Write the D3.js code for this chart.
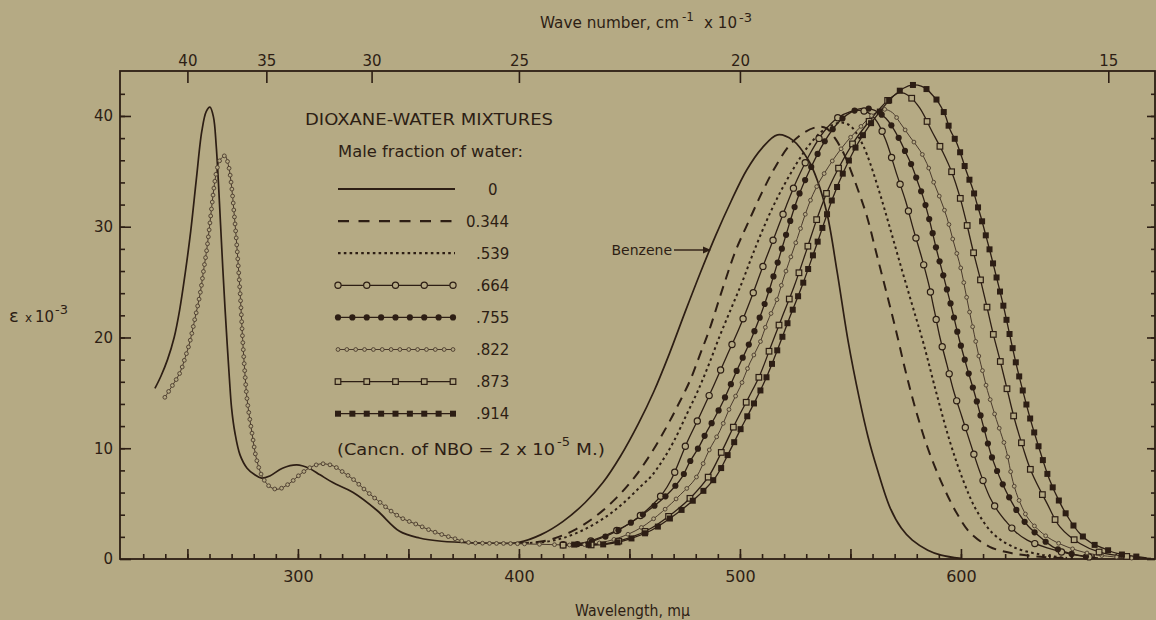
<!DOCTYPE html>
<html>
<head>
<meta charset="utf-8">
<script src="https://cdn.jsdelivr.net/npm/d3@7"></script>
<style>
body { margin: 0; background: #b5aa84; }
svg { display: block; }
text { font-family: "DejaVu Sans", sans-serif; fill: #2d1e14; }
</style>
</head>
<body>
<div id="chart"></div>
<script>
// values: [wavelength mu, epsilon x 10^-3]
var solid0 = [[235.3,15.4],[238,16.5],[241,18.0],[244,20.0],[246.5,22.5],[249,25.8],[251.5,29.6],[254,34.2],[256.5,38.6],[258.5,40.4],[260.2,40.8],[261.8,39.9],[263,37.4],[264,34.1],[265,30.2],[266,26.3],[267,22.7],[268,19.4],[269,16.3],[270,13.6],[271.5,11.4],[273.8,9.4],[277,8.2],[280.5,7.6],[283.6,7.3],[287.3,7.5],[293,8.2],[299.5,8.5],[305,8.2],[310,7.6],[315.8,6.9],[325,6.0],[335.7,4.4],[346,2.5],[355,1.9],[365,1.6],[380,1.45],[393,1.42]];

var benzene = [[392,1.42],[400,1.5],[410,2.2],[420,3.4],[430,5.1],[438,6.9],[446,9.3],[454,12.2],[461,15.1],[468,18.5],[475,22.2],[482,25.8],[489,29.2],[496,32.3],[503,35.1],[510,37.1],[517,38.3],[524,37.8],[531,36.0],[535,34.2],[539.5,31.1],[544,25.9],[549,19.6],[554,14.5],[558,11.0],[562,8.2],[568,4.6],[573,2.8],[578,1.7],[585,0.8],[591,0.35],[600,0.05]];

var w344 = [[400,1.45],[407,1.5],[415,1.8],[425,2.6],[435,3.9],[444,5.5],[452,7.3],[460,9.6],[467,12.0],[472,13.9],[477.4,16.1],[482,18.5],[486,20.6],[492.3,24.5],[498,27.8],[504,30.5],[510,33.1],[516,35.4],[522.6,37.4],[529,38.5],[535,39.0],[539,38.9],[543,38.0],[547,36.6],[550.7,34.8],[554,33.0],[557.5,30.9],[562,27.4],[566.5,23.9],[571,20.3],[575,16.9],[579.5,13.5],[585,10.0],[591.9,6.6],[598.2,4.1],[604,2.4],[613,1.1],[623.5,0.5],[636,0.2],[650,0.05]];

var w539 = [[405,1.45],[412,1.55],[420,1.9],[430,2.7],[440,3.9],[447,5.0],[454.8,6.5],[460,7.5],[465,8.9],[470,10.6],[476,13.1],[481,15.2],[486,17.6],[491,20.2],[496,22.6],[501,25.0],[505,27.1],[509,29.1],[514,31.4],[519,33.4],[525,35.5],[531,37.3],[537,38.6],[542,39.2],[546,39.4],[550,39.1],[554,38.0],[557.5,36.5],[563,33.2],[568,29.8],[573,26.3],[578,22.9],[583,19.5],[589,14.9],[595,10.6],[601,7.1],[607,4.4],[614.5,2.3],[623.5,1.1],[636,0.4],[648,0.1]];

var w664 = [[420,1.3],[430,1.5],[440,2.2],[450,3.2],[460,4.8],[465,5.9],[469,7.2],[476,10.5],[482,13.0],[488,15.6],[494,18.3],[500,21.0],[505,23.5],[510,26.2],[516,29.3],[521,31.9],[526,34.3],[532,36.7],[538,38.6],[544,39.8],[550,40.4],[554,40.5],[558,40.3],[562,39.5],[566,37.8],[571,34.7],[575,32.3],[578.3,29.9],[582.4,27.1],[585.3,24.9],[588,22.4],[590.5,20.0],[593.7,17.5],[596.8,15.1],[600.5,12.8],[604.5,10.3],[608.5,7.9],[613,5.6],[616.5,4.4],[620.8,3.3],[625,2.4],[630,1.7],[639,1.0],[650.7,0.4],[662,0.1]];

var w755 = [[420,1.25],[430,1.45],[440,2.1],[450,3.2],[460,4.6],[467,5.8],[473.8,7.4],[477.4,8.8],[481.4,10.1],[485,11.5],[488.7,12.8],[492.8,14.4],[499,17.2],[505.4,20.0],[511.3,23.1],[515,25.4],[520,28.7],[526,32.5],[532,35.3],[538,37.6],[544,39.3],[550,40.3],[556,40.7],[561,40.5],[566,39.8],[569,39.0],[572.4,37.8],[575,36.7],[578,35.4],[580.5,34.0],[583,32.6],[586,30.4],[589,27.9],[592.8,25.0],[596,22.5],[599,20.0],[602.7,17.3],[606.8,14.5],[610.4,11.8],[614,9.2],[619,6.7],[622,5.5],[625.8,4.2],[630.3,3.0],[635.7,2.0],[641.6,1.1],[649.3,0.5],[660,0.12]];

var w822 = [[239.8,14.6],[243,15.6],[246.6,16.8],[249,18.2],[251.1,19.6],[253.5,21.8],[255.7,23.9],[257.5,26.3],[258.8,28.0],[260,30.0],[261,31.8],[262.2,33.8],[263.5,35.3],[265,36.1],[267,36.4],[268.5,35.6],[270,33.6],[271,31.5],[272,29.2],[273,26.5],[274,23.5],[275,19.8],[276,16.8],[277,14.4],[279.2,11.4],[281.4,8.9],[284.2,7.3],[287.5,6.5],[291,6.3],[296,6.8],[302,7.8],[307,8.4],[311,8.6],[316,8.4],[320,7.9],[325,7.2],[330,6.3],[336,5.3],[346,3.8],[354,3.1],[361,2.5],[370,1.9],[377,1.5],[385,1.42],[395,1.4],[405,1.35],[415,1.3],[425,1.27],[435,1.4],[445,1.9],[455,2.8],[465,4.3],[473,5.8],[480,7.3],[486,9.8],[491,11.6],[495.5,13.7],[500,15.5],[504.5,17.7],[509,19.5],[512.2,21.3],[516.7,23.4],[519.5,25.2],[525,28.4],[533,32.9],[540,35.4],[548,37.6],[554,38.9],[560,40.1],[565,40.6],[569,40.3],[572.4,39.4],[577,38.1],[581.4,36.9],[584.6,35.7],[587.3,34.2],[590.5,32.6],[593.7,30.8],[596.4,28.8],[600,26.2],[602,24.2],[604,22.2],[606,20.3],[608,18.4],[610,16.8],[612,15.2],[614,13.9],[616,12.6],[618,11.4],[620.5,9.8],[623.5,7.0],[626.7,5.1],[631,3.5],[639,2.0],[648,1.1],[658,0.5],[669,0.2],[680,0.05]];

var w873 = [[420,1.25],[430,1.25],[440,1.4],[450,1.9],[460,2.8],[470,4.2],[478,5.6],[486,7.5],[492,9.8],[498,12.3],[504,14.6],[509,16.6],[514,19.2],[519,21.8],[524.5,24.6],[530,27.8],[535,30.8],[540,33.4],[546,35.8],[552,37.8],[558,39.4],[563,40.6],[568,41.6],[572.5,42.1],[576.5,41.8],[581.4,40.7],[586.9,38.6],[591.9,36.7],[595.9,34.9],[599.5,32.7],[602.7,30.2],[605.4,27.9],[608.6,25.4],[611.6,22.9],[614.5,20.4],[617.6,18.0],[620.8,15.4],[624,12.8],[628,10.1],[632,7.8],[639,5.0],[644.8,2.9],[653.8,1.4],[663,0.6],[676.5,0.2],[686,0.05]];

var w914 = [[425,1.3],[440,1.35],[450,1.8],[460,2.6],[470,3.9],[480,5.5],[489,7.4],[495,9.6],[501,12.0],[507,14.3],[512,16.4],[517,18.9],[522.5,21.8],[528,24.6],[533,27.4],[538,30.3],[542,32.6],[547,35.0],[553,37.4],[558.8,39.2],[563.3,40.4],[569,41.7],[574,42.5],[578.3,42.8],[582,42.7],[584.6,42.4],[587.5,41.8],[589.6,41.3],[592.8,40.1],[595,38.8],[598,37.6],[600.5,36.2],[602.8,34.8],[605.2,33.5],[607.2,32.1],[609,30.9],[611,29.4],[613,27.9],[615,26.3],[617,24.7],[619.5,22.6],[622,20.3],[625,17.6],[628.5,14.8],[632,12.2],[635.7,9.8],[640,7.2],[645,5.0],[649.3,3.5],[653.8,2.3],[659.3,1.4],[664,1.0],[670.6,0.5],[676.5,0.3],[684,0.1]];

var fractions = ["0", "0.344", ".539", ".664", ".755", ".822", ".873", ".914"];
var wavelengthLabels = [300, 400, 500, 600];
var epsilonLabels = [0, 10, 20, 30, 40];
var waveNumbers = [40, 35, 30, 25, 20, 15];

var ink = "#2d1e14", paper = "#b5aa84";
var width = 1156, height = 620;

// one style per mole fraction, in legend order
var styles = {
    "0":     {dash: null,    sw: 1.7},
    "0.344": {dash: "10,7",  sw: 2},
    ".539":  {dash: "2.6,3.2", sw: 2},
    ".664":  {marker: "circle",  step: 28,   n: 5, sw: 1.3},
    ".755":  {marker: "dot",     step: 14.5, n: 9, sw: 1.3},
    ".822":  {marker: "small",   step: 15,  n: 14, sw: 1, color: "#4a3a2c"},
    ".873":  {marker: "square",  step: 28,   n: 5, sw: 1.3},
    ".914":  {marker: "fsquare", step: 14.5, n: 9, sw: 1.3}
};

var curves = [
    {key: "0", data: solid0},
    {key: "0", data: benzene},
    {key: "0.344", data: w344},
    {key: ".539", data: w539},
    {key: ".664", data: w664},
    {key: ".755", data: w755},
    {key: ".822", data: w822},
    {key: ".873", data: w873},
    {key: ".914", data: w914}
];

var svg = d3.select("#chart").append("svg")
    .attr("width", width)
    .attr("height", height);

svg.append("rect").attr("width", width).attr("height", height).attr("fill", paper);

var x = d3.scaleLinear().domain([219.5, 687.8]).range([120, 1155]);
var y = d3.scaleLinear().domain([0, 44.06]).range([559, 71]);

var line = d3.line()
    .x(function(d) { return x(d[0]); })
    .y(function(d) { return y(d[1]); })
    .curve(d3.curveCatmullRom.alpha(0.5));

function styleAxis(g, size) {
    g.attr("font-family", null).attr("font-size", null).attr("color", ink);
    g.selectAll("line").attr("stroke-width", 1.6);
    g.selectAll("text").style("font-size", size + "px");
    g.select(".domain").remove();
}

// bottom axis: minor every 10, major every 50
svg.append("g")
    .attr("transform", "translate(0,559)")
    .call(d3.axisBottom(x).tickValues(d3.range(230, 690, 10)).tickSize(-5).tickFormat(""))
    .call(styleAxis, 16);
svg.append("g")
    .attr("transform", "translate(0,559)")
    .call(d3.axisBottom(x).tickValues(d3.range(250, 690, 50)).tickSize(-10).tickPadding(12)
        .tickFormat(function(d) { return wavelengthLabels.indexOf(d) >= 0 ? d : ""; }))
    .call(styleAxis, 16);

// left and right axes
svg.append("g")
    .attr("transform", "translate(120,0)")
    .call(d3.axisLeft(y).tickValues(d3.range(2, 44, 2)).tickSize(-5).tickFormat(""))
    .call(styleAxis, 15);
svg.append("g")
    .attr("transform", "translate(120,0)")
    .call(d3.axisLeft(y).tickValues(epsilonLabels).tickSize(-11).tickPadding(7))
    .call(styleAxis, 15);
svg.append("g")
    .attr("transform", "translate(1155,0)")
    .call(d3.axisRight(y).tickValues(d3.range(2, 44, 2)).tickSize(-4).tickFormat(""))
    .call(styleAxis, 15);
svg.append("g")
    .attr("transform", "translate(1155,0)")
    .call(d3.axisRight(y).tickValues(epsilonLabels).tickSize(-8).tickFormat(""))
    .call(styleAxis, 15);

// top axis in wave numbers (cm-1 x 10^-3)
svg.append("g")
    .attr("transform", "translate(0,71)")
    .call(d3.axisTop(x).tickValues(waveNumbers.map(function(k) { return 1e4 / k; }))
        .tickSize(-12).tickPadding(5)
        .tickFormat(function(v) { return Math.round(1e4 / v); }))
    .call(styleAxis, 15);

// frame
svg.append("rect")
    .attr("x", 120).attr("y", 71)
    .attr("width", 1035).attr("height", 488)
    .attr("fill", "none").attr("stroke", ink).attr("stroke-width", 1.8);

function drawMarker(g, type, cx, cy) {
    if (type == "circle") {
        g.append("circle").attr("cx", cx).attr("cy", cy).attr("r", 3.1)
            .attr("fill", paper).attr("stroke", ink).attr("stroke-width", 1.2);
    } else if (type == "dot") {
        g.append("circle").attr("cx", cx).attr("cy", cy).attr("r", 3.1).attr("fill", ink);
    } else if (type == "small") {
        g.append("circle").attr("cx", cx).attr("cy", cy).attr("r", 1.9)
            .attr("fill", paper).attr("stroke", "#4a3a2c").attr("stroke-width", 0.9);
    } else if (type == "square") {
        g.append("rect").attr("x", cx - 2.8).attr("y", cy - 2.8).attr("width", 5.6).attr("height", 5.6)
            .attr("fill", paper).attr("stroke", ink).attr("stroke-width", 1.2);
    } else {
        g.append("rect").attr("x", cx - 3).attr("y", cy - 3).attr("width", 6).attr("height", 6)
            .attr("fill", ink);
    }
}

var curveLayer = svg.append("g");
var markerLayer = svg.append("g");

curves.forEach(function(c) {
    var st = styles[c.key];
    var path = curveLayer.append("path")
        .attr("d", line(c.data))
        .attr("fill", "none")
        .attr("stroke", st.color || ink)
        .attr("stroke-width", st.sw)
        .attr("stroke-dasharray", st.dash);
    if (!st.marker) return;
    var node = path.node();
    var L = node.getTotalLength();
    var s = 0;
    while (s <= L) {
        var p = node.getPointAtLength(s);
        drawMarker(markerLayer, st.marker, p.x, p.y);
        // the ultraviolet part of .822 carries denser circles
        s += (st.marker == "small" && p.x < x(400)) ? 7 : st.step;
    }
});

// legend
var legend = svg.append("g");
legend.append("text").attr("x", 305).attr("y", 125)
    .attr("textLength", 248).attr("lengthAdjust", "spacingAndGlyphs")
    .style("font-size", "16px").text("DIOXANE-WATER MIXTURES");
legend.append("text").attr("x", 338).attr("y", 157)
    .attr("textLength", 185).attr("lengthAdjust", "spacingAndGlyphs")
    .style("font-size", "15px").text("Male fraction of water:");

fractions.forEach(function(f, i) {
    var st = styles[f];
    var ly = 189 + i * 32.1;
    legend.append("line")
        .attr("x1", 338).attr("x2", 455).attr("y1", ly).attr("y2", ly)
        .attr("stroke", st.color || ink)
        .attr("stroke-width", st.marker ? st.sw : st.sw + 0.3)
        .attr("stroke-dasharray", st.dash == "10,7" ? "11,9.5" : st.dash);
    if (st.marker) {
        d3.range(st.n).forEach(function(k) {
            drawMarker(legend, st.marker, 338 + k * (115 / (st.n - 1)), ly);
        });
    }
    legend.append("text")
        .attr("x", f == "0" ? 488 : (f == "0.344" ? 466 : 476))
        .attr("y", ly + 5.5)
        .style("font-size", "15px")
        .text(f);
});

legend.append("text").attr("x", 337).attr("y", 455)
    .attr("textLength", 218).attr("lengthAdjust", "spacingAndGlyphs")
    .style("font-size", "15px").text("(Cancn. of NBO = 2 x 10");
legend.append("text").attr("x", 557).attr("y", 446)
    .style("font-size", "13px").text("-5");
legend.append("text").attr("x", 576).attr("y", 455)
    .attr("textLength", 29).attr("lengthAdjust", "spacingAndGlyphs")
    .style("font-size", "15px").text("M.)");

// benzene pointer
svg.append("text").attr("x", 672).attr("y", 255).attr("text-anchor", "end")
    .style("font-size", "14px").text("Benzene");
svg.append("line").attr("x1", 674).attr("x2", 706).attr("y1", 250).attr("y2", 250)
    .attr("stroke", ink).attr("stroke-width", 1.4);
svg.append("path").attr("d", "M703,246.5 L711,250 L703,253.5 Z").attr("fill", ink);

// axis titles
svg.append("text").attr("x", 540).attr("y", 28)
    .attr("textLength", 139).attr("lengthAdjust", "spacingAndGlyphs")
    .style("font-size", "15px").text("Wave number, cm");
svg.append("text").attr("x", 682).attr("y", 21).style("font-size", "12px").text("-1");
svg.append("text").attr("x", 704).attr("y", 28)
    .attr("textLength", 33).attr("lengthAdjust", "spacingAndGlyphs")
    .style("font-size", "15px").text("x 10");
svg.append("text").attr("x", 739).attr("y", 22).style("font-size", "13px").text("-3");

svg.append("text").attr("x", 575).attr("y", 616)
    .attr("textLength", 115).attr("lengthAdjust", "spacingAndGlyphs")
    .style("font-size", "15px").text("Wavelength, m\u03bc");

svg.append("text").attr("x", 9).attr("y", 322).style("font-size", "18px").text("\u03b5");
svg.append("text").attr("x", 25).attr("y", 322).style("font-size", "12px").text("x");
svg.append("text").attr("x", 35).attr("y", 322)
    .attr("textLength", 19).attr("lengthAdjust", "spacingAndGlyphs")
    .style("font-size", "15px").text("10");
svg.append("text").attr("x", 55).attr("y", 314).style("font-size", "13px").text("-3");
</script>
</body>
</html>
